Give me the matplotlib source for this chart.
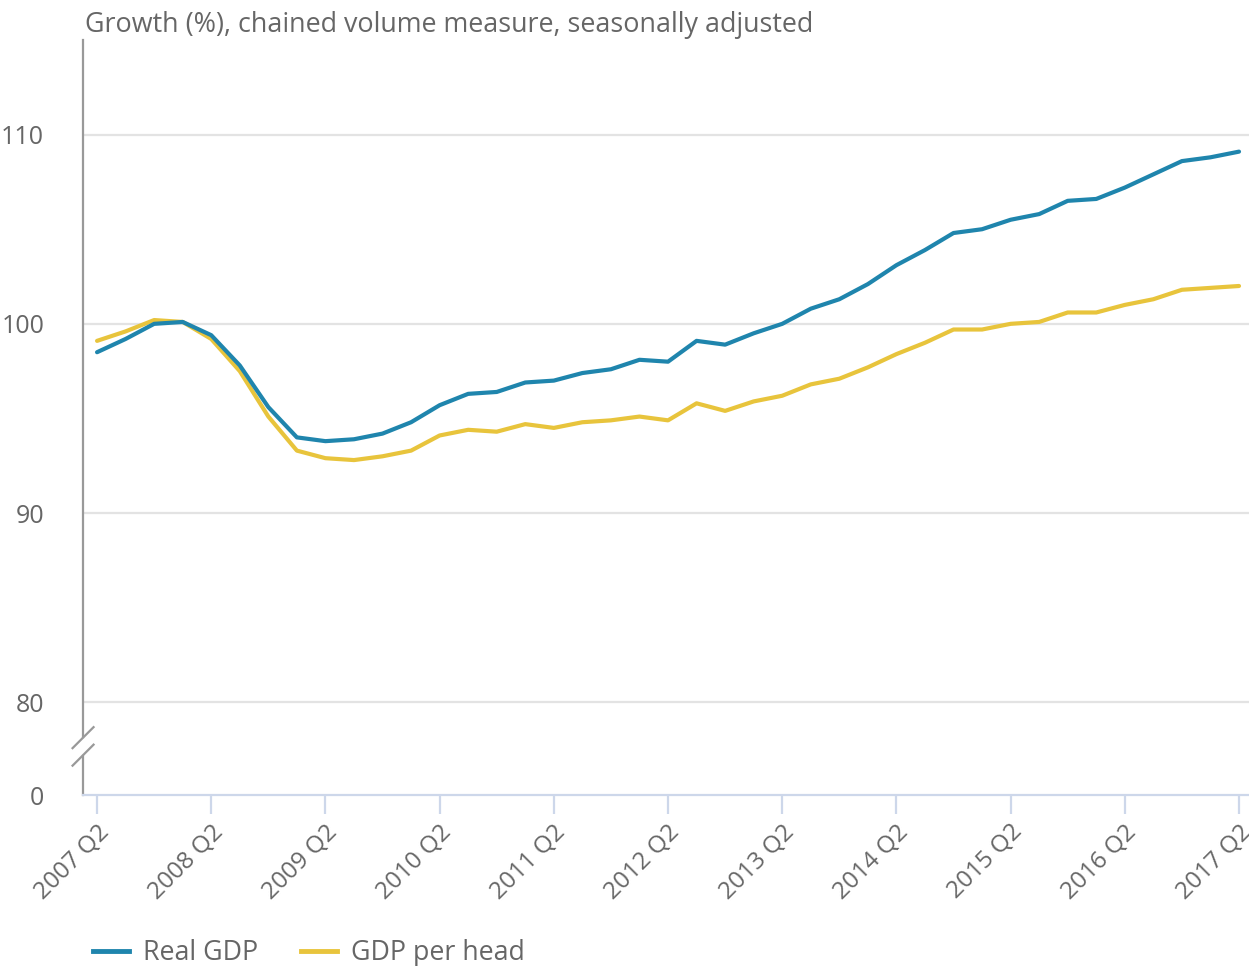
#!/usr/bin/env python3
"""Real GDP and GDP per head, chained volume index, 2007 Q2 - 2017 Q2."""
import matplotlib
matplotlib.use("Agg")
import matplotlib.pyplot as plt
import matplotlib.transforms as mtransforms
import numpy as np
from matplotlib.lines import Line2D

plt.rcParams["font.family"] = ["Open Sans", "DejaVu Sans"]

# quarterly values (2007 Q2 .. 2017 Q2)
real_gdp = [98.5, 99.2, 100.0, 100.1, 99.4, 97.8, 95.6, 94.0, 93.8, 93.9,
            94.2, 94.8, 95.7, 96.3, 96.4, 96.9, 97.0, 97.4, 97.6, 98.1,
            98.0, 99.1, 98.9, 99.5, 100.0, 100.8, 101.3, 102.1, 103.1, 103.9,
            104.8, 105.0, 105.5, 105.8, 106.5, 106.6, 107.2, 107.9, 108.6, 108.8,
            109.1]
gdp_per_head = [99.1, 99.6, 100.2, 100.1, 99.2, 97.5, 95.1, 93.3, 92.9, 92.8,
                93.0, 93.3, 94.1, 94.4, 94.3, 94.7, 94.5, 94.8, 94.9, 95.1,
                94.9, 95.8, 95.4, 95.9, 96.2, 96.8, 97.1, 97.7, 98.4, 99.0,
                99.7, 99.7, 100.0, 100.1, 100.6, 100.6, 101.0, 101.3, 101.8, 101.9,
                102.0]
years = list(range(2007, 2018))
tick_labels = [f"{y} Q2" for y in years]
y_ticks = [0, 80, 90, 100, 110]

BLUE = "#1f85ad"
YELLOW = "#e8c43c"
GREY = "#666666"

# broken axis: 0..80 squeezed into a short band below 80
SQUEEZE = 4.9 / 80.0


def fwd(v):
    v = np.asarray(v, dtype=float)
    return np.where(v >= 80, v, 80 - (80 - v) * SQUEEZE)


def inv(t):
    t = np.asarray(t, dtype=float)
    return np.where(t >= 80, t, 80 - (80 - t) / SQUEEZE)


fig = plt.figure(figsize=(12.49, 9.66), dpi=100)
ax = fig.add_axes([0.0665, 0.177, 0.9335, 0.7816])
ax.set_yscale("function", functions=(fwd, inv))

x = np.arange(len(real_gdp))
ax.plot(x, real_gdp, color=BLUE, lw=3, solid_capstyle="round", label="Real GDP", zorder=3)
ax.plot(x, gdp_per_head, color=YELLOW, lw=3, solid_capstyle="round", label="GDP per head", zorder=2)

ax.set_ylim(0, 115)
ax.set_xlim(-0.49, 40.35)
ax.set_yticks(y_ticks)
ax.set_yticklabels([str(v) for v in y_ticks])
ax.set_xticks(np.arange(0, len(real_gdp), 4))
ax.set_xticklabels(tick_labels, rotation=45, ha="right", va="top",
                   rotation_mode="anchor")
shift = mtransforms.ScaledTranslation(1 / 100, 0, fig.dpi_scale_trans)
for lab in ax.get_xticklabels():
    lab.set_transform(lab.get_transform() + shift)

for v in y_ticks[1:]:
    ax.axhline(v, color="#e3e3e3", lw=1.6, zorder=1)

for s in ("top", "right"):
    ax.spines[s].set_visible(False)
ax.spines["left"].set_color("#999999")
ax.spines["left"].set_linewidth(1.6)
ax.spines["bottom"].set_color("#cdd7ea")
ax.spines["bottom"].set_linewidth(1.6)
ax.tick_params(axis="y", length=0, pad=28, labelsize=18, labelcolor=GREY)
ax.tick_params(axis="x", length=14, width=1.6, color="#cdd7ea", pad=4,
               labelsize=17.5, labelcolor=GREY)

# axis break marks on the left spine
tr = ax.get_yaxis_transform()
ax.plot([0, 0], [37.0, 46.5], transform=tr, color="white", lw=4, clip_on=False, zorder=4)
x0 = ax.transAxes.transform((0, 0))[0]
W, H = fig.bbox.width, fig.bbox.height
for yc in (49.5, 34.4):
    yd = ax.transData.transform((0, yc))[1]
    fig.add_artist(Line2D([(x0 - 10.5) / W, (x0 + 10.5) / W],
                          [(yd - 10.5) / H, (yd + 10.5) / H],
                          color="#999999", lw=1.6, zorder=5))

fig.text(0.068, 0.974, "Growth (%), chained volume measure, seasonally adjusted",
         fontsize=19.4, color=GREY, va="center", ha="left")

handles = [Line2D([], [], color=BLUE, lw=3.5), Line2D([], [], color=YELLOW, lw=3.5)]
fig.legend(handles, ["Real GDP", "GDP per head"], loc="center left",
           bbox_to_anchor=(0.0745, 0.0135), ncol=2, frameon=False, fontsize=19.3,
           labelcolor=GREY, handlelength=1.33, handletextpad=0.53, columnspacing=1.6,
           borderpad=0, borderaxespad=0)

fig.savefig("out.png", dpi=100)
